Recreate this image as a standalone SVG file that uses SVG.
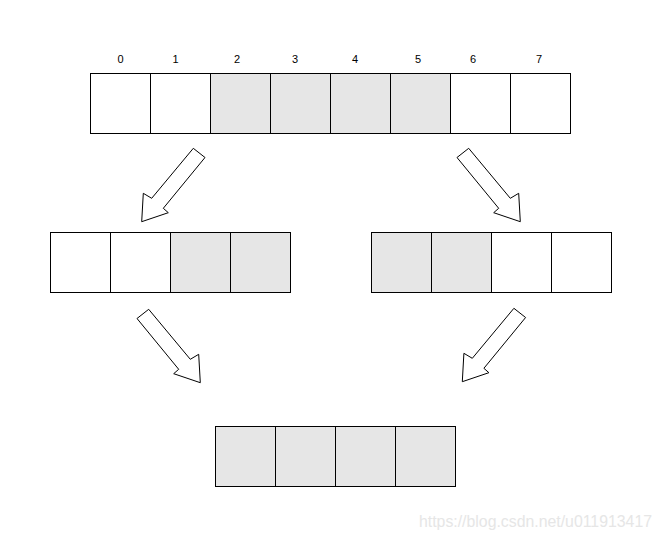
<svg xmlns="http://www.w3.org/2000/svg" xmlns:xlink="http://www.w3.org/1999/xlink" width="662" height="539" viewBox="0 0 662 539">
<style>
.w{fill:#ffffff;stroke:#000;stroke-width:1}
.g{fill:#e6e6e6;stroke:#000;stroke-width:1}
.lbl{font-family:"Liberation Sans",Arial,sans-serif;font-size:11px;fill:#000;text-anchor:middle}
.arr{fill:#ffffff;stroke:#000;stroke-width:1;stroke-linejoin:miter}
.wm{font-family:"Liberation Sans",Arial,sans-serif;font-size:16px;fill:#e6e6e6}
</style>
<defs>
<polygon id="arrowL" class="arr" points="193.3,148.3 205,157.5 163.3,208.3 168.3,212.7 141.7,221.7 143.3,193.3 151.7,198.3"/>
</defs>
<rect width="662" height="539" fill="#ffffff"/>
<g id="top-labels">
<text class="lbl" x="120.5" y="63">0</text>
<text class="lbl" x="175.5" y="63">1</text>
<text class="lbl" x="237" y="63">2</text>
<text class="lbl" x="295" y="63">3</text>
<text class="lbl" x="355" y="63">4</text>
<text class="lbl" x="418" y="63">5</text>
<text class="lbl" x="473" y="63">6</text>
<text class="lbl" x="539" y="63">7</text>
</g>
<g id="top-array">
<rect class="w" x="90.5" y="73.5" width="60" height="60"/>
<rect class="w" x="150.5" y="73.5" width="60" height="60"/>
<rect class="g" x="210.5" y="73.5" width="60" height="60"/>
<rect class="g" x="270.5" y="73.5" width="60" height="60"/>
<rect class="g" x="330.5" y="73.5" width="60" height="60"/>
<rect class="g" x="390.5" y="73.5" width="60" height="60"/>
<rect class="w" x="450.5" y="73.5" width="60" height="60"/>
<rect class="w" x="510.5" y="73.5" width="60" height="60"/>
</g>
<g id="left-array">
<rect class="w" x="50.5" y="232.5" width="60" height="60"/>
<rect class="w" x="110.5" y="232.5" width="60" height="60"/>
<rect class="g" x="170.5" y="232.5" width="60" height="60"/>
<rect class="g" x="230.5" y="232.5" width="60" height="60"/>
</g>
<g id="right-array">
<rect class="g" x="371.5" y="232.5" width="60" height="60"/>
<rect class="g" x="431.5" y="232.5" width="60" height="60"/>
<rect class="w" x="491.5" y="232.5" width="60" height="60"/>
<rect class="w" x="551.5" y="232.5" width="60" height="60"/>
</g>
<g id="bottom-array">
<rect class="g" x="215.5" y="426.5" width="60" height="60"/>
<rect class="g" x="275.5" y="426.5" width="60" height="60"/>
<rect class="g" x="335.5" y="426.5" width="60" height="60"/>
<rect class="g" x="395.5" y="426.5" width="60" height="60"/>
</g>
<g id="connectors">
<use xlink:href="#arrowL"/>
<use xlink:href="#arrowL" transform="translate(662,0) scale(-1,1)"/>
<use xlink:href="#arrowL" transform="translate(342,161) scale(-1,1)"/>
<use xlink:href="#arrowL" transform="translate(320.6,160)"/>
</g>
<text class="wm" x="419" y="527" textLength="233" lengthAdjust="spacingAndGlyphs">https://blog.csdn.net/u011913417</text>
</svg>
